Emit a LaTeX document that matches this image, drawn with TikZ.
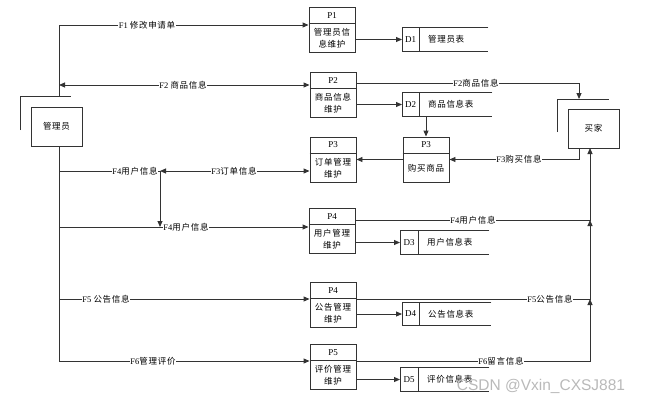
\documentclass[tikz,border=0pt]{standalone}
\usepackage{fontspec}
\setmainfont{Liberation Serif}
\newfontfamily\cjk[LetterSpace=8]{Noto Sans CJK SC}
\newfontfamily\wmfont{Liberation Sans}
\usetikzlibrary{arrows.meta,calc}
\newcommand\zh[1]{{\cjk #1}}
\tikzset{
 x=1pt,y=-1pt,
 ln/.style={draw=black!80, line width=0.9pt},
 flow/.style={ln, -{Triangle[length=6pt,width=5pt]}},
 flow2/.style={ln, {Triangle[length=6pt,width=5pt]}-{Triangle[length=6pt,width=5pt]}},
 procbox/.style={ln, rectangle, minimum width=46pt, minimum height=45pt, inner sep=0pt},
 ent/.style={ln, rectangle, minimum width=51pt, minimum height=39pt, font=\fontsize{8.5}{10}\cjk},
 storebox/.style={rectangle, minimum height=23pt, inner sep=0pt},
 lab/.style={fill=white, inner sep=0.6pt, font=\fontsize{8.5}{10}\selectfont},
 hd/.style={inner sep=0pt, font=\fontsize{9}{10}\selectfont},
 bd/.style={inner sep=0pt, align=center, font=\fontsize{8.5}{12}\cjk},
}
\newcommand\mkproc[5]{%
 \node[procbox] (#1) at (#2,#3) {};
 \draw[ln] ([yshift=-16.5pt]#1.north west) -- ([yshift=-16.5pt]#1.north east);
 \node[hd] (#1h) at ([yshift=-8.5pt]#1.north) {#4};
 \node[bd] (#1b) at ([yshift=14.25pt]#1.south) {#5};
}
\newcommand\mkstore[7]{%
 \node[storebox, minimum width=#4pt, anchor=west] (#1) at (#2,#3) {};
 \draw[ln] (#1.north east) -- (#1.north west) -- (#1.south west) -- (#1.south east);
 \draw[ln] ([xshift=#5pt]#1.north west) -- ([xshift=#5pt]#1.south west);
 \node[hd] (#1i) at ([xshift=#5pt/2]#1.west) {#6};
 \node[bd, anchor=west] (#1l) at ([xshift=#5pt+9pt]#1.west) {#7};
}
\begin{document}
\begin{tikzpicture}
\useasboundingbox (0,0) rectangle (645,404);
% entities
\node[ent] (admin) at (56.5,126.5) {管理员};
\draw[ln] (20,130) -- (20,96) -- (71,96);
\node[ent] (buyer) at (593.5,128.5) {买家};
\draw[ln] (557,132) -- (557,99) -- (609,99);
% processes
\mkproc{p1}{332}{29.5}{P1}{管理员信\\息维护}
\mkproc{p2}{333}{94.5}{P2}{商品信息\\维护}
\mkproc{p3}{333}{159.5}{P3}{订单管理\\维护}
\mkproc{p3b}{426}{159.5}{P3}{购买商品}
\mkproc{p4}{332}{230.5}{P4}{用户管理\\维护}
\mkproc{p4b}{333}{305}{P4}{公告管理\\维护}
\mkproc{p5}{333}{367}{P5}{评价管理\\维护}
% stores
\mkstore{d1}{402}{39.5}{86}{17}{D1}{管理员表}
\mkstore{d2}{402}{104.5}{90}{17}{D2}{商品信息表}
\mkstore{d3}{400}{242.5}{89}{18}{D3}{用户信息表}
\mkstore{d4}{402}{314}{89}{17}{D4}{公告信息表}
\mkstore{d5}{400}{379.5}{89}{18}{D5}{评价信息表}
% process to store
\draw[flow] (p1.east |- d1.west) -- (d1.west);
\draw[flow] (p2.east |- d2.west) -- (d2.west);
\draw[flow] (p4.east |- d3.west) -- (d3.west);
\draw[flow] (p4b.east |- d4.west) -- (d4.west);
\draw[flow] (p5.east |- d5.west) -- (d5.west);
% trunk
\coordinate (tk) at (59,96);
\coordinate (j) at (160,171);
\draw[flow] (tk) |- (p1.west |- 0,25);
\draw[flow2] (tk |- 0,85) -- (p2.west |- 0,85);
\draw[ln] (tk |- admin.south) -- (tk |- 0,361);
\draw[ln] (tk |- j) -- (j);
\draw[flow2] (j) -- (p3.west |- j);
\draw[flow] (tk |- 0,227) -- (p4.west |- 0,227);
\draw[flow] (tk |- 0,299) -- (p4b.west |- 0,299);
\draw[flow] (tk |- 0,361) -- (p5.west |- 0,361);
% right side
\coordinate (bx) at (579,99);
\coordinate (rv) at (590,148);
\draw[flow] (p2.east |- 0,83) -| (bx);
\draw[flow] (d2.south -| p3b.north) -- (p3b.north);
\draw[flow] (buyer.south -| bx) |- (p3b.east);
\draw[flow] (p3b.west) -- (p3.east);
\draw[flow] (p4.east |- 0,220) -| (rv);
\draw[flow] (p4b.east |- 0,299) -| (rv |- 0,220);
\draw[flow] (p5.east |- 0,361) -| (rv |- 0,299);
% labels
\node[lab] (l1) at (147,25) {F1 \zh{修改申请单}};
\node[lab] (l2) at (183,85) {F2 \zh{商品信息}};
\node[lab] (l2r) at (476,83) {F2\zh{商品信息}};
\node[lab] (l3r) at (519,159.5) {F3\zh{购买信息}};
\node[lab] (l4a) at (135,171) {F4\zh{用户信息}};
\node[lab] (l3) at (234,171) {F3\zh{订单信息}};
\node[lab] (l4b) at (186,227) {F4\zh{用户信息}};
\node[lab] (l4r) at (473,220) {F4\zh{用户信息}};
\node[lab] (l5) at (106,299) {F5 \zh{公告信息}};
\node[lab] (l5r) at (550,299) {F5\zh{公告信息}};
\node[lab] (l6) at (153,361) {F6\zh{管理评价}};
\node[lab] (l6r) at (501,361) {F6\zh{留言信息}};
\draw[flow] (j) -- (j |- 0,227);
\node[text=gray!55, font=\wmfont\fontsize{15.5}{16}\selectfont] (wm) at (541,386) {CSDN @Vxin\_CXSJ881};
\end{tikzpicture}
\end{document}
